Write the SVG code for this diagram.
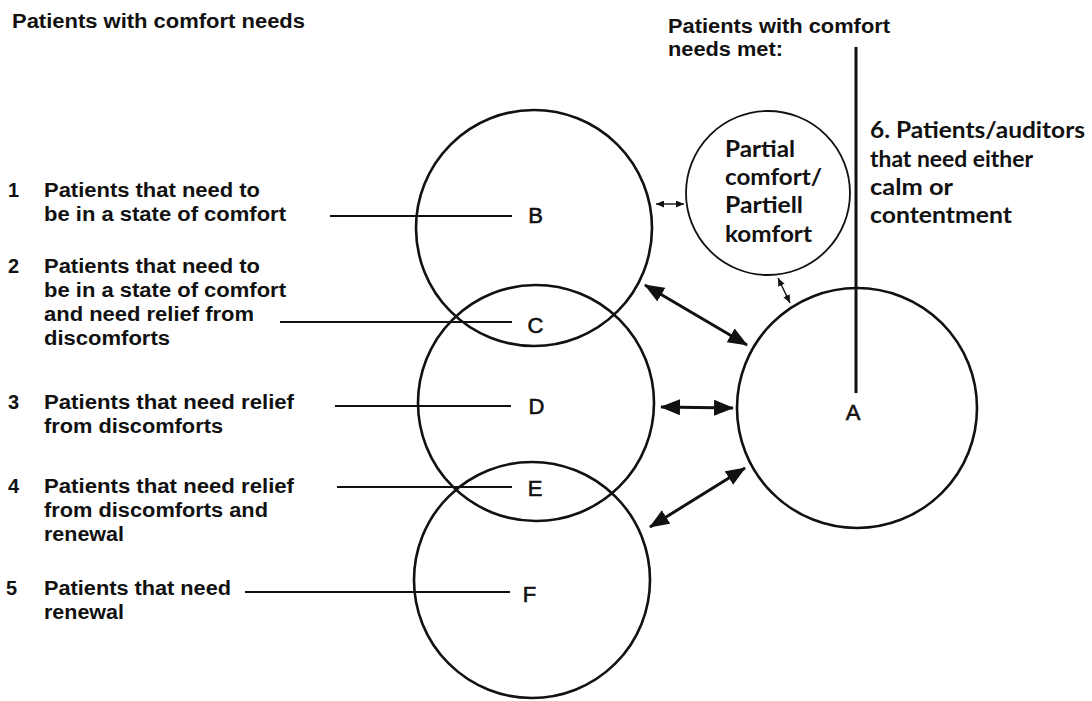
<svg xmlns="http://www.w3.org/2000/svg" width="1092" height="701" viewBox="0 0 1092 701">
<defs>
<style>
.lbl{font-family:"Liberation Sans",Arial,Helvetica,sans-serif;font-weight:bold;font-size:20px;fill:#111}
.ltr{font-family:"Liberation Sans",Arial,Helvetica,sans-serif;font-size:22px;fill:#111;stroke:#111;stroke-width:0.6;text-anchor:middle}
.new{font-family:Lato,"Open Sans","Liberation Sans",sans-serif;font-weight:bold;font-size:22px;fill:#111}
.big{fill:none;stroke:#111;stroke-width:2.6}
.thin{fill:none;stroke:#111;stroke-width:1.8}
.lead{stroke:#111;stroke-width:2.2;fill:none}
.arr{stroke:#111;stroke-width:3;fill:none;marker-start:url(#bh);marker-end:url(#bh)}
.sarr{stroke:#111;stroke-width:1.4;fill:none;marker-start:url(#sh);marker-end:url(#sh)}
</style>
<marker id="bh" markerUnits="userSpaceOnUse" markerWidth="20" markerHeight="16" refX="19" refY="8" orient="auto-start-reverse" viewBox="0 0 20 16">
<path d="M0,0 L20,8 L0,16 z" fill="#111"/>
</marker>
<marker id="sh" markerUnits="userSpaceOnUse" markerWidth="8" markerHeight="7" refX="8" refY="3.5" orient="auto-start-reverse" viewBox="0 0 8 7">
<path d="M0,0 L8,3.5 L0,7 z" fill="#111"/>
</marker>
</defs>
<rect width="1092" height="701" fill="#fff"/>

<g id="header-left">
<text class="lbl" x="12" y="28" textLength="293" lengthAdjust="spacingAndGlyphs">Patients with comfort needs</text>
</g>
<g id="header-right">
<text class="lbl" x="668" y="33" textLength="222" lengthAdjust="spacingAndGlyphs">Patients with comfort</text>
<text class="lbl" x="668" y="56" textLength="115" lengthAdjust="spacingAndGlyphs">needs met:</text>
</g>

<g id="label-1">
<text class="lbl" x="8" y="197">1</text>
<text class="lbl" x="44" y="197" textLength="216" lengthAdjust="spacingAndGlyphs">Patients that need to</text>
<text class="lbl" x="44" y="221" textLength="242" lengthAdjust="spacingAndGlyphs">be in a state of comfort</text>
</g>
<g id="label-2">
<text class="lbl" x="8" y="273">2</text>
<text class="lbl" x="44" y="273" textLength="216" lengthAdjust="spacingAndGlyphs">Patients that need to</text>
<text class="lbl" x="44" y="297" textLength="242" lengthAdjust="spacingAndGlyphs">be in a state of comfort</text>
<text class="lbl" x="44" y="321" textLength="210" lengthAdjust="spacingAndGlyphs">and need relief from</text>
<text class="lbl" x="44" y="345" textLength="126" lengthAdjust="spacingAndGlyphs">discomforts</text>
</g>
<g id="label-3">
<text class="lbl" x="8" y="409">3</text>
<text class="lbl" x="44" y="409" textLength="250" lengthAdjust="spacingAndGlyphs">Patients that need relief</text>
<text class="lbl" x="44" y="433" textLength="179" lengthAdjust="spacingAndGlyphs">from discomforts</text>
</g>
<g id="label-4">
<text class="lbl" x="8" y="493">4</text>
<text class="lbl" x="44" y="493" textLength="250" lengthAdjust="spacingAndGlyphs">Patients that need relief</text>
<text class="lbl" x="44" y="517" textLength="224" lengthAdjust="spacingAndGlyphs">from discomforts and</text>
<text class="lbl" x="44" y="541" textLength="80" lengthAdjust="spacingAndGlyphs">renewal</text>
</g>
<g id="label-5">
<text class="lbl" x="6" y="595">5</text>
<text class="lbl" x="44" y="595" textLength="187" lengthAdjust="spacingAndGlyphs">Patients that need</text>
<text class="lbl" x="44" y="619" textLength="80" lengthAdjust="spacingAndGlyphs">renewal</text>
</g>

<g id="node-B">
<circle class="big" cx="534" cy="228" r="118"/>
<text class="ltr" x="535.5" y="223">B</text>
</g>
<g id="node-D">
<circle class="big" cx="536" cy="403" r="118"/>
<text class="ltr" x="536.5" y="414">D</text>
</g>
<g id="node-F">
<circle class="big" cx="532" cy="580" r="118"/>
<text class="ltr" x="529.5" y="602">F</text>
</g>
<g id="node-C">
<text class="ltr" x="535.5" y="333">C</text>
</g>
<g id="node-E">
<text class="ltr" x="535" y="496">E</text>
</g>
<g id="node-A">
<circle class="big" cx="857" cy="408" r="120"/>
<text class="ltr" x="853" y="420">A</text>
</g>
<g id="node-partial">
<circle class="thin" cx="768" cy="193" r="82"/>
<text class="new" x="725" y="157" textLength="70" lengthAdjust="spacingAndGlyphs">Partial</text>
<text class="new" x="725" y="185" textLength="97" lengthAdjust="spacingAndGlyphs">comfort/</text>
<text class="new" x="725" y="213" textLength="78" lengthAdjust="spacingAndGlyphs">Partiell</text>
<text class="new" x="725" y="242" textLength="87" lengthAdjust="spacingAndGlyphs">komfort</text>
</g>
<g id="label-6">
<text class="new" x="870" y="138" textLength="215" lengthAdjust="spacingAndGlyphs">6. Patients/auditors</text>
<text class="new" x="870" y="167" textLength="163" lengthAdjust="spacingAndGlyphs">that need either</text>
<text class="new" x="870" y="195" textLength="83" lengthAdjust="spacingAndGlyphs">calm or</text>
<text class="new" x="870" y="223" textLength="142" lengthAdjust="spacingAndGlyphs">contentment</text>
</g>

<g id="connectors">
<line class="lead" x1="330" y1="216" x2="512" y2="216"/>
<line class="lead" x1="280" y1="322" x2="512" y2="322"/>
<line class="lead" x1="335" y1="406" x2="511" y2="406"/>
<line class="lead" x1="337" y1="487" x2="512" y2="487"/>
<line class="lead" x1="245" y1="592" x2="510" y2="592"/>
<line class="lead" x1="856" y1="47" x2="856" y2="393" style="stroke-width:3"/>
<line class="arr" x1="645" y1="285" x2="747" y2="345"/>
<line class="arr" x1="661" y1="407" x2="733" y2="408"/>
<line class="arr" x1="650" y1="527" x2="745" y2="468"/>
<line class="sarr" x1="656" y1="204" x2="684" y2="204"/>
<line class="sarr" x1="778" y1="278" x2="790" y2="303"/>
</g>
</svg>
